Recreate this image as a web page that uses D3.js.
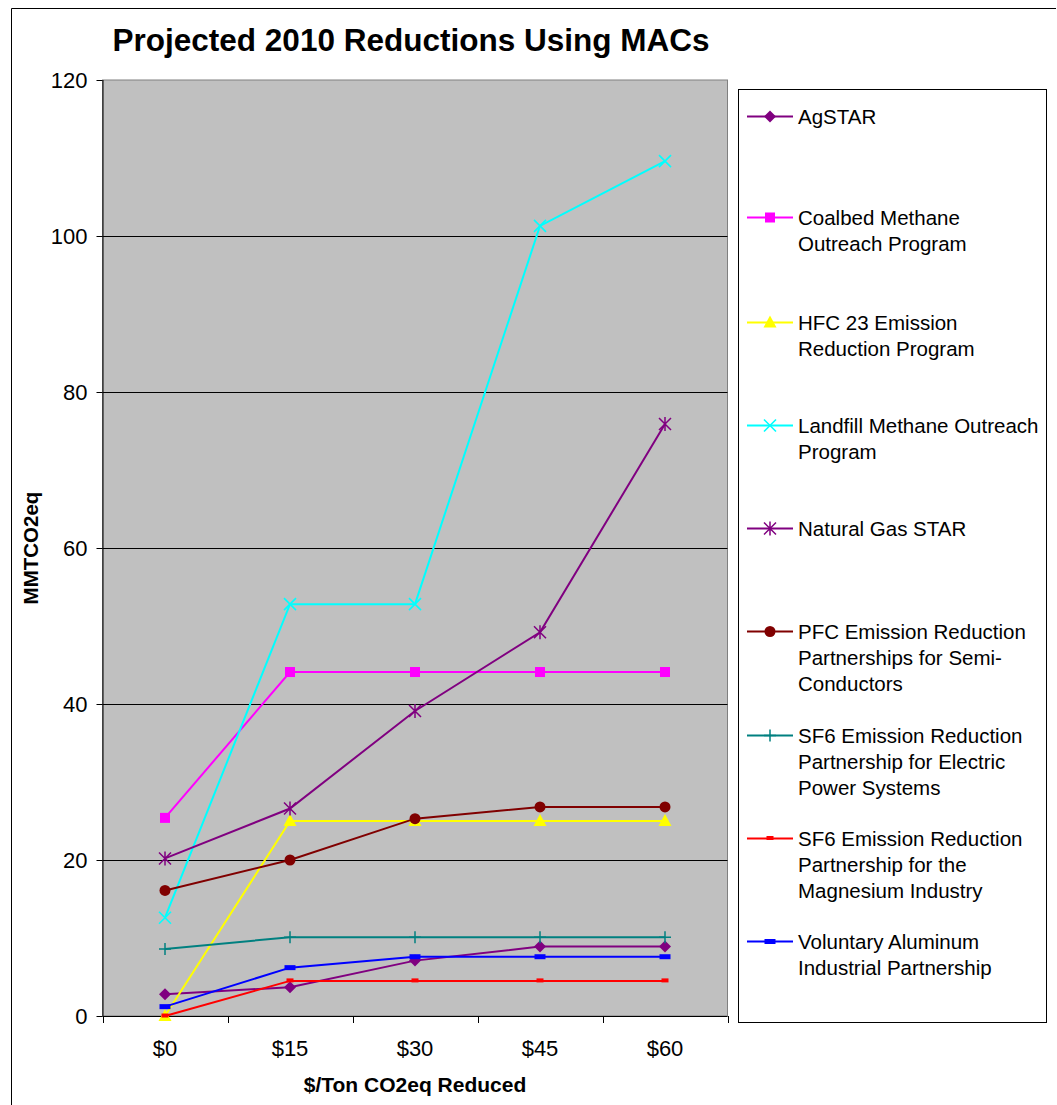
<!DOCTYPE html>
<html><head><meta charset="utf-8">
<script src="https://cdn.jsdelivr.net/npm/d3@7"></script>
<style>body{margin:0;background:#fff}svg{display:block}text{font-family:"Liberation Sans",Arial,sans-serif}</style>
</head><body><svg id="c" width="1057" height="1105"></svg>
<script>
const categories = ["$0","$15","$30","$45","$60"];
const yTicks = [0,20,40,60,80,100,120];
const seriesNames = [
  "AgSTAR",
  "Coalbed Methane Outreach Program",
  "HFC 23 Emission Reduction Program",
  "Landfill Methane Outreach Program",
  "Natural Gas STAR",
  "PFC Emission Reduction Partnerships for Semi-Conductors",
  "SF6 Emission Reduction Partnership for Electric Power Systems",
  "SF6 Emission Reduction Partnership for the Magnesium Industry",
  "Voluntary Aluminum Industrial Partnership"
];
const legendLines = [
  ["AgSTAR"],
  ["Coalbed Methane","Outreach Program"],
  ["HFC 23 Emission","Reduction Program"],
  ["Landfill Methane Outreach","Program"],
  ["Natural Gas STAR"],
  ["PFC Emission Reduction","Partnerships for Semi-","Conductors"],
  ["SF6 Emission Reduction","Partnership for Electric","Power Systems"],
  ["SF6 Emission Reduction","Partnership for the","Magnesium Industry"],
  ["Voluntary Aluminum","Industrial Partnership"]
];
const agstar     = [2.8, 3.7, 7.1, 8.9, 8.9];
const coalbed    = [25.4, 44.1, 44.1, 44.1, 44.1];
const hfc23      = [0.0, 25.0, 25.0, 25.0, 25.0];
const landfill   = [12.6, 52.8, 52.8, 101.3, 109.6];
const natgas     = [20.2, 26.6, 39.1, 49.2, 75.9];
const pfc        = [16.1, 20.0, 25.3, 26.8, 26.8];
const sf6elec    = [8.6, 10.1, 10.1, 10.1, 10.1];
const sf6mg      = [0.0, 4.5, 4.5, 4.5, 4.5];
const aluminum   = [1.2, 6.2, 7.6, 7.6, 7.6];
const seriesValues = [agstar, coalbed, hfc23, landfill, natgas, pfc, sf6elec, sf6mg, aluminum];
const colors = ["#800080","#FF00FF","#FFFF00","#00FFFF","#800080","#800000","#008080","#FF0000","#0000FF"];
const markers = ["diamond","square","triangle","x","asterisk","circle","plus","smalldash","dash"];

const svg = d3.select("#c");
const FONT = "'Liberation Sans',Arial,sans-serif";
// outer frame
svg.append("path").attr("d","M11.5,1105 V8.5 H1056").attr("fill","none").attr("stroke","#000").attr("stroke-width",1);

const L=102.5, R=727.5, T=80, B=1016;
const x = d3.scaleBand().domain(categories).range([L,R]);
const y = d3.scaleLinear().domain([0,120]).range([B,T]);

svg.append("rect").attr("x",L).attr("y",T).attr("width",R-L).attr("height",B-T).attr("fill","#C0C0C0").attr("stroke","#808080");

// gridlines
svg.append("g").selectAll("line").data(yTicks.filter(d=>d>0&&d<120)).join("line")
  .attr("x1",L).attr("x2",R).attr("y1",d=>Math.round(y(d))+0.5).attr("y2",d=>Math.round(y(d))+0.5)
  .attr("stroke","#000").attr("stroke-width",1);

// y axis
const ya = svg.append("g").attr("transform",`translate(${L},0)`)
  .call(d3.axisLeft(y).tickValues(yTicks).tickSize(6).tickPadding(9));
ya.selectAll("text").attr("font-size",22).attr("fill","#000").style("font-family",FONT);
ya.selectAll("line").attr("stroke","#000");
ya.select(".domain").attr("stroke","#000").attr("d",`M0.5,${T}V${B}`);

// x axis
const xa = svg.append("g").attr("transform",`translate(0,${B})`)
  .call(d3.axisBottom(x).tickSize(0).tickPadding(24));
xa.selectAll("text").attr("font-size",22).attr("fill","#000").style("font-family",FONT);
xa.select(".domain").attr("stroke","#000").attr("d",`M${L},0.5H${R}`);
const bounds = categories.map(c=>x(c)).concat([R]);
svg.append("g").selectAll("line").data(bounds).join("line")
  .attr("x1",d=>Math.round(d)+0.5).attr("x2",d=>Math.round(d)+0.5).attr("y1",B).attr("y2",B+7).attr("stroke","#000");

// title & axis titles
svg.append("text").attr("x",411).attr("y",51).attr("text-anchor","middle").attr("font-size",31.5).attr("font-weight","bold").text("Projected 2010 Reductions Using MACs");
svg.append("text").attr("x",415).attr("y",1092).attr("text-anchor","middle").attr("font-size",21).attr("font-weight","bold").text("$/Ton CO2eq Reduced");
svg.append("text").attr("transform","translate(38,548) rotate(-90)").attr("text-anchor","middle").attr("font-size",20.5).attr("font-weight","bold").text("MMTCO2eq");

function drawMarker(g, type, color){
  switch(type){
    case "diamond": g.append("path").attr("d","M0,-6L6,0L0,6L-6,0Z").attr("fill",color); break;
    case "square": g.append("rect").attr("x",-5).attr("y",-5).attr("width",10).attr("height",10).attr("fill",color); break;
    case "triangle": g.append("path").attr("d","M0,-7L6.5,5L-6.5,5Z").attr("fill",color); break;
    case "x": g.append("path").attr("d","M-6,-6L6,6M-6,6L6,-6").attr("stroke",color).attr("stroke-width",1.6).attr("fill","none"); break;
    case "asterisk": g.append("path").attr("d","M-6,-6L6,6M-6,6L6,-6M0,-7V7").attr("stroke",color).attr("stroke-width",1.5).attr("fill","none"); break;
    case "circle": g.append("circle").attr("r",5.5).attr("fill",color); break;
    case "plus": g.append("path").attr("d","M-6,0H6M0,-6V6").attr("stroke",color).attr("stroke-width",1.5).attr("fill","none"); break;
    case "smalldash": g.append("rect").attr("x",-3.5).attr("y",-2.5).attr("width",7).attr("height",4).attr("fill",color); break;
    case "dash": g.append("rect").attr("x",-5.5).attr("y",-2.5).attr("width",11).attr("height",5).attr("fill",color); break;
  }
}

const line = d3.line().x((d,i)=>x(categories[i])+x.bandwidth()/2).y(d=>y(d));
seriesValues.forEach((vals,si)=>{
  const g = svg.append("g");
  g.append("path").attr("d",line(vals)).attr("fill","none").attr("stroke",colors[si]).attr("stroke-width",2);
  vals.forEach((v,i)=>{
    const m = g.append("g").attr("transform",`translate(${x(categories[i])+x.bandwidth()/2},${y(v)})`);
    drawMarker(m, markers[si], colors[si]);
  });
});

// legend
svg.append("rect").attr("x",738.5).attr("y",89.5).attr("width",308).attr("height",933).attr("fill","#fff").attr("stroke","#000");
const legendTop = [116, 217, 322, 425, 528, 631, 735, 838, 941];
seriesNames.forEach((name,si)=>{
  const g = svg.append("g").attr("transform",`translate(0,${legendTop[si]})`);
  g.append("line").attr("x1",747).attr("x2",793).attr("y1",0.5).attr("y2",0.5).attr("stroke",colors[si]).attr("stroke-width",2);
  const m = g.append("g").attr("transform","translate(770,0.5)");
  drawMarker(m, markers[si], colors[si]);
  const t = g.append("text").attr("x",798).attr("y",8).attr("font-size",20.5).attr("fill","#000");
  legendLines[si].forEach((ln,k)=>t.append("tspan").attr("x",798).attr("dy",k?26:0).text(ln));
});
</script></body></html>
